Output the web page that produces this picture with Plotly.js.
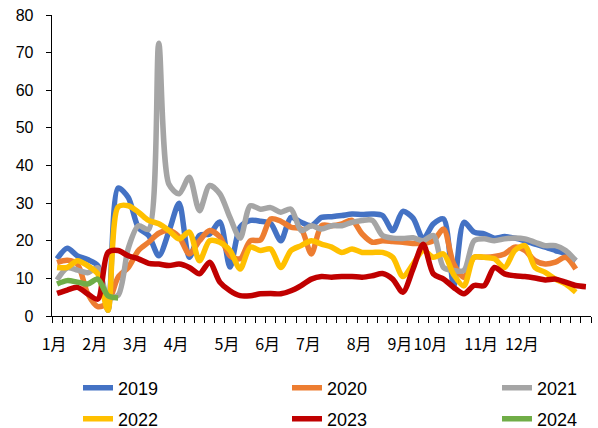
<!DOCTYPE html>
<html>
<head>
<meta charset="utf-8">
<script src="https://cdn.plot.ly/plotly-3.0.1.min.js"></script>
<style>
  html, body { margin: 0; padding: 0; background: #fff; }
  #chart { width: 598px; height: 428px; }
</style>
</head>
<body>
<div id="chart"></div>
<script>
// weekly values, index 0 = first week of January
var monthLabels = ['1月','2月','3月','4月','5月','6月','7月','8月','9月','10月','11月','12月'];
var monthWeek   = [0, 4, 8, 12, 17, 21, 25, 30, 34, 37, 42, 46];

var y2019 = [15.2,18,16,15,13.4,1.5,34,31.5,23.5,21.4,16,22.5,30,15.6,21.4,21.8,25,13,23.6,25.4,25.2,24.6,20,26.2,24.9,24,26.2,26.4,26.7,27.1,27,27.1,26.7,22.7,27.8,26,20.5,24.5,25.8,8,24.9,22.3,21.8,20.7,21.1,20.7,20,19.1,18.3,17.4,16.5,14.7];
var y2020 = [14.2,14.8,13.8,6,2.5,3.5,10.3,12.9,17.4,19.6,22,22.7,21,16.5,20,22.7,21,16,15.2,20,20.2,25.8,25.2,23.6,23.1,16.5,24,24,24.5,25.4,21.8,19.6,20,19.8,19.6,19.3,19.3,20,23.1,13.8,10.3,15.6,15.6,15.8,16.5,18.3,17.4,14.7,13.8,14.3,15.6,12.5];
var y2021 = [9.6,12.8,12.2,11.5,12.8,5,5.5,18,24,23,72.5,35,32.5,36.9,28,34.7,32.5,26.2,20.7,29.3,28.4,28.8,27.6,28.4,22.7,24,23.1,24,24,24.9,25.4,25.4,21.4,20.7,20.6,20.8,20,21.4,12.9,12.1,12.1,20,20.5,20,20.5,20.7,20.5,19.6,18.7,18.7,17.4,14.7];
var y2022 = [12.9,12.9,14.7,13.4,11.2,1.5,29,29.3,27.6,25.4,24.5,22.7,20.5,22.3,14.7,20,19.6,17.4,12.5,18.3,17.4,17.8,12.9,17.4,18.7,20,19.1,18.3,16.9,17.8,16.9,16.9,16.9,15.6,10.5,13.8,17.4,15.6,16.5,11,8,15.6,15.6,15.2,12.9,17.4,18.7,12.9,11.6,9.8,8.5,6.3];
var y2023 = [6,6.9,7.6,5.9,4.5,16.9,17.4,16,15.2,14,13.8,13.4,13.8,12.9,11.2,14.3,9,6.7,5.4,5.4,5.9,6,5.9,6.7,8.1,9.8,10.5,10.3,10.5,10.5,10.3,10.7,11.3,9.8,6.3,12.5,19.1,11.2,9.8,7.6,5.9,8.1,8.1,12.9,11.2,10.7,10.5,10.1,9.6,9.8,9,8.1,7.8];
var y2024 = [8.5,9.4,9,8.5,9.8,5.4,4.8];

var names  = ['2019', '2020', '2021', '2022', '2023', '2024'];
var values = [y2019, y2020, y2021, y2022, y2023, y2024];
var colors = ['#4472C4', '#ED7D31', '#A5A5A5', '#FFC000', '#C00000', '#70AD47'];

// legend: 3 columns x 2 rows, one legend box per entry
var legCols = [78, 287, 497];   // px from left
var legRows = [388, 419];       // px from top

var legendFont = {family: 'Liberation Sans, Arial, sans-serif', size: 18, color: '#000'};

var weeks = [];
for (var w = 0; w < y2023.length; w++) weeks.push(w);

var data = [];
var layout = {
  width: 598, height: 428,
  margin: {l: 52, r: 7, t: 15, b: 112},
  paper_bgcolor: '#fff', plot_bgcolor: '#fff',
  showlegend: true,
  xaxis: {
    range: [-0.5, 52.5],
    tickmode: 'array', tickvals: monthWeek, ticktext: monthLabels,
    tickangle: 0,
    ticks: '', ticklabelshift: -3, ticklabelstandoff: 13,
    tickfont: {family: 'Noto Sans CJK SC, sans-serif', size: 16, color: '#000'},
    showgrid: false, zeroline: false,
    showline: true, linecolor: '#000', linewidth: 1.3
  },
  // tick marks between weeks
  xaxis2: {
    overlaying: 'x', side: 'bottom', anchor: 'y',
    range: [-0.5, 52.5], tickmode: 'linear', tick0: -0.5, dtick: 1,
    ticks: 'outside', ticklen: 6, tickwidth: 1, tickcolor: '#000',
    showticklabels: false, showgrid: false, zeroline: false, showline: false
  },
  yaxis: {
    range: [0, 80], dtick: 10,
    ticks: 'outside', ticklen: 5, tickwidth: 1, tickcolor: '#000',
    ticklabelstandoff: 9,
    tickfont: {family: 'Liberation Sans, Arial, sans-serif', size: 16, color: '#000'},
    showgrid: false, zeroline: false,
    showline: true, linecolor: '#000', linewidth: 1.3
  }
};

// empty trace so the tick-mark axis gets drawn
data.push({
  x: weeks, y: weeks.map(function () { return null; }),
  xaxis: 'x2', yaxis: 'y', mode: 'lines', showlegend: false, hoverinfo: 'skip'
});

for (var k = 0; k < names.length; k++) {
  var x = [];
  for (var i = 0; i < values[k].length; i++) x.push(i);
  var legId = k === 0 ? 'legend' : 'legend' + (k + 1);
  data.push({
    x: x, y: values[k], name: names[k], legend: legId,
    mode: 'lines',
    line: {color: colors[k], width: 5.5, shape: 'spline', smoothing: 0.8},
    hoverinfo: 'skip'
  });
  layout[legId] = {
    orientation: 'h', xref: 'container', yref: 'container',
    x: legCols[k % 3] / 598, y: 1 - legRows[Math.floor(k / 3)] / 428,
    xanchor: 'left', yanchor: 'middle',
    font: legendFont, bgcolor: 'rgba(0,0,0,0)'
  };
}

Plotly.newPlot('chart', data, layout, {displayModeBar: false, staticPlot: true});
</script>
</body>
</html>
